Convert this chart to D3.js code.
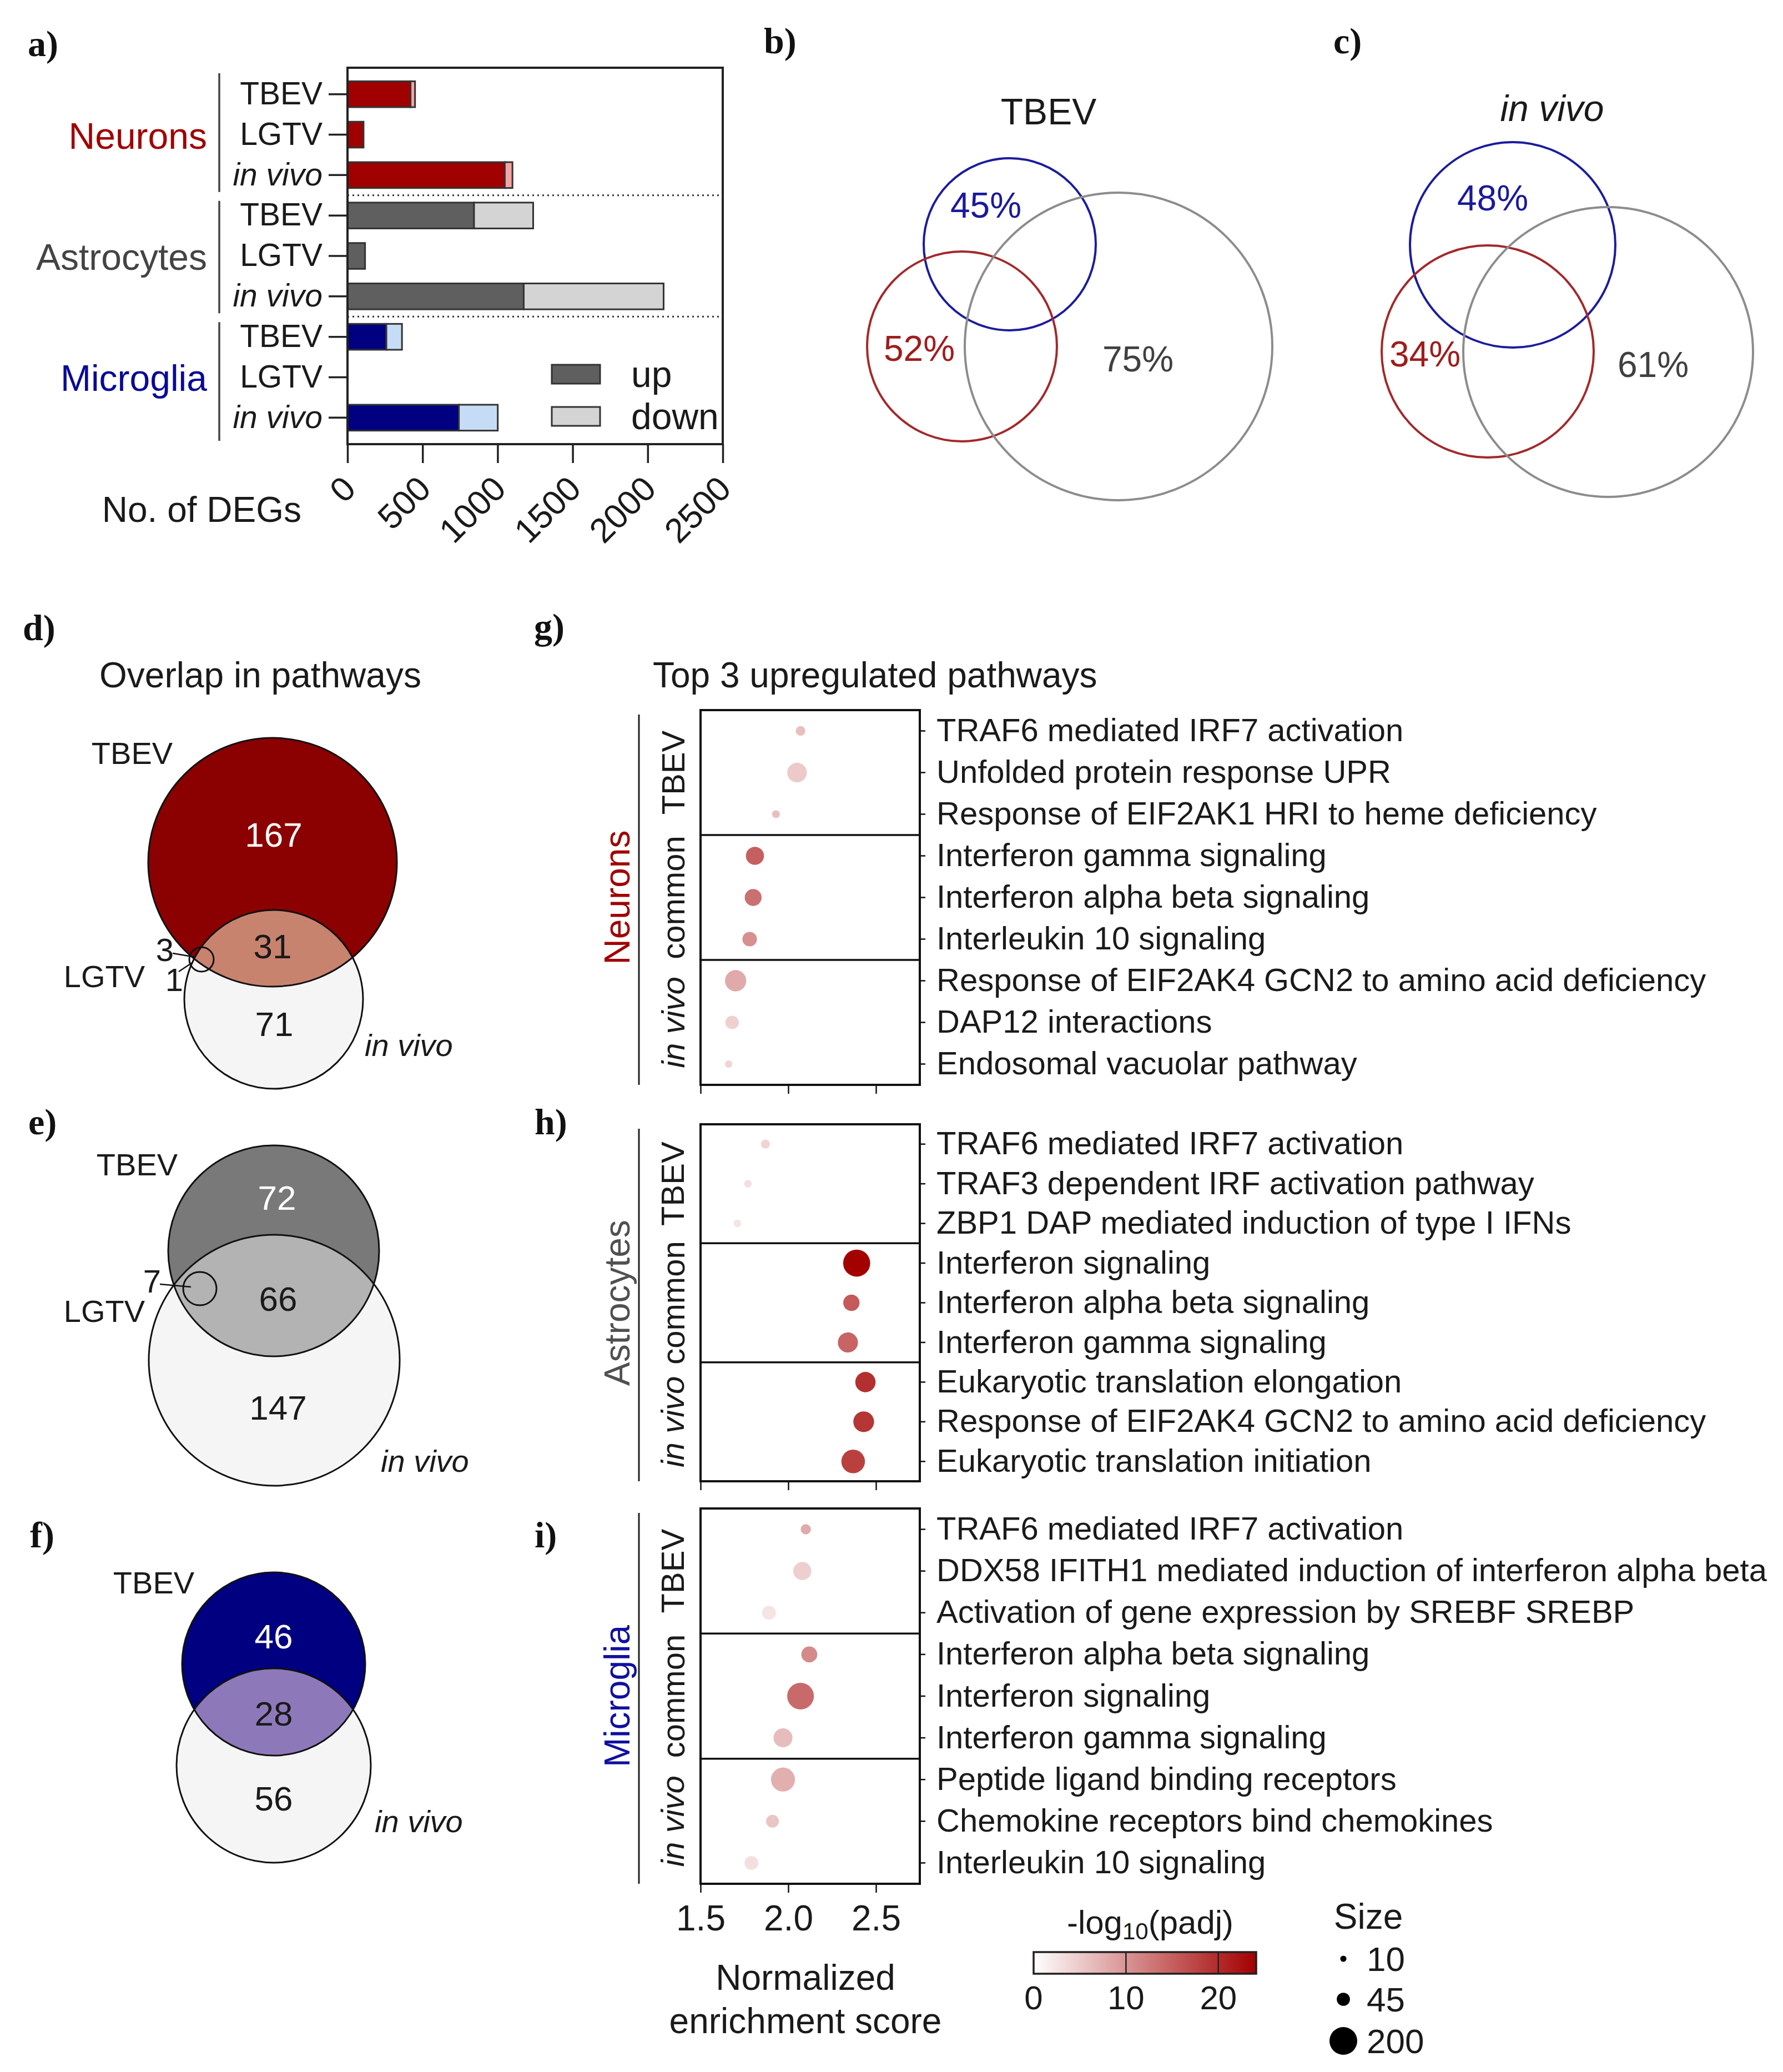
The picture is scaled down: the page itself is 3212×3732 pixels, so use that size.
<!DOCTYPE html>
<html><head><meta charset="utf-8">
<script src="https://cdn.jsdelivr.net/npm/d3@7/dist/d3.min.js"></script>
<style>body{margin:0;background:#fff} svg{display:block} text{font-family:"Liberation Sans", Arial, sans-serif}</style>
</head><body><svg id="c" width="3212" height="3732"></svg>
<script>
// ---------------- DATA ----------------
const cellTypes = ["Neurons", "Astrocytes", "Microglia"];
const conditions = ["TBEV", "LGTV", "in vivo"];
const degUp   = [420, 107, 1048, 843, 117, 1174, 259, 0, 742];
const degDown = [ 30,   0,   51, 394,   0,  932, 104, 0, 259];
const degTicks = [0, 500, 1000, 1500, 2000, 2500];

const tbevPct   = ["45%", "52%", "75%"];   // microglia, neurons, astrocytes
const invivoPct = ["48%", "34%", "61%"];

const neuronOverlap = [167, 31, 71, 3, 1]; // TBEV only, TBEV∩in vivo, in vivo only, LGTV, LGTV
const astroOverlap  = [72, 66, 147, 7];
const microOverlap  = [46, 28, 56];

const pathwayGroups = ["TBEV", "common", "in vivo"];

const neuronPathways = ["TRAF6 mediated IRF7 activation", "Unfolded protein response UPR",
  "Response of EIF2AK1 HRI to heme deficiency", "Interferon gamma signaling",
  "Interferon alpha beta signaling", "Interleukin 10 signaling",
  "Response of EIF2AK4 GCN2 to amino acid deficiency", "DAP12 interactions", "Endosomal vacuolar pathway"];
const neuronNES  = [2.07, 2.05, 1.93, 1.81, 1.80, 1.78, 1.70, 1.68, 1.66];
const neuronPadj = [6, 5, 6, 15, 13.5, 10.5, 8, 4.4, 4];
const neuronSize = [24, 100, 16, 85, 74, 55, 118, 47, 14];

const astroPathways = ["TRAF6 mediated IRF7 activation", "TRAF3 dependent IRF activation pathway",
  "ZBP1 DAP mediated induction of type I IFNs", "Interferon signaling",
  "Interferon alpha beta signaling", "Interferon gamma signaling",
  "Eukaryotic translation elongation", "Response of EIF2AK4 GCN2 to amino acid deficiency",
  "Eukaryotic translation initiation"];
const astroNES  = [1.87, 1.77, 1.71, 2.39, 2.36, 2.34, 2.44, 2.43, 2.37];
const astroPadj = [4, 3, 2.5, 24, 15.5, 14.6, 19.5, 19, 18];
const astroSize = [21, 15, 15, 190, 69, 105, 107, 112, 145];

const microPathways = ["TRAF6 mediated IRF7 activation",
  "DDX58 IFITH1 mediated induction of interferon alpha beta",
  "Activation of gene expression by SREBF SREBP", "Interferon alpha beta signaling",
  "Interferon signaling", "Interferon gamma signaling", "Peptide ligand binding receptors",
  "Chemokine receptors bind chemokines", "Interleukin 10 signaling"];
const microNES  = [2.10, 2.08, 1.89, 2.12, 2.07, 1.97, 1.97, 1.91, 1.79];
const microPadj = [8, 4.5, 2.5, 11, 14, 6.3, 7.5, 5.5, 3];
const microSize = [27, 85, 50, 66, 185, 93, 150, 43, 50];

const nesTicks = [1.5, 2.0, 2.5];
const padjTicks = [0, 10, 20];
const sizeLegend = [10, 45, 200];

// ---------------- HELPERS ----------------
const svg = d3.select("#c");
svg.append("rect").attr("width", 3212).attr("height", 3732).attr("fill", "#fff");
function T(p, x, y, s, size, o = {}) {
  const t = p.append("text").attr("x", x).attr("y", y)
    .attr("font-size", size)
    .attr("text-anchor", o.anchor || "start")
    .attr("dominant-baseline", o.base || "central")
    .attr("fill", o.fill || "#1a1a1a")
    .attr("font-style", o.italic ? "italic" : null)
    .attr("font-weight", o.bold ? "bold" : null)
    .text(s);
  if (o.serif) t.style("font-family", "'Liberation Serif', 'Times New Roman', serif");
  return t;
}
function panelLabel(x, y, s) { T(svg, x, y, s, 66, {bold: true, serif: true, fill: "#111"}); }

// ---------------- PANEL A ----------------
const rowKeys = [];
cellTypes.forEach((c, ci) => conditions.forEach((k, ki) => rowKeys.push(ci * 3 + ki)));
const aX = d3.scaleLinear().domain([0, 2500]).range([626, 1302]);
const aY = d3.scaleBand().domain(rowKeys).range([122, 800]).paddingInner(0.36).paddingOuter(0.335);
const upCol = ["#a00000", "#5f5f5f", "#000080"];
const downCol = ["#f5a3a3", "#d4d4d4", "#c6dcf6"];
const gA = svg.append("g");

panelLabel(50, 78, "a)");
rowKeys.forEach(i => {
  const ci = Math.floor(i / 3);
  if (degUp[i] > 0) gA.append("rect").attr("x", aX(0)).attr("y", aY(i))
    .attr("width", aX(degUp[i]) - aX(0)).attr("height", aY.bandwidth())
    .attr("fill", upCol[ci]).attr("stroke", "#333").attr("stroke-width", 3);
  if (degDown[i] > 0) gA.append("rect").attr("x", aX(degUp[i])).attr("y", aY(i))
    .attr("width", aX(degUp[i] + degDown[i]) - aX(degUp[i])).attr("height", aY.bandwidth())
    .attr("fill", downCol[ci]).attr("stroke", "#333").attr("stroke-width", 3);
});
gA.append("rect").attr("x", 626).attr("y", 122).attr("width", 676).attr("height", 678)
  .attr("fill", "none").attr("stroke", "#222").attr("stroke-width", 4);
const stepA = aY.step(), gapA = stepA * aY.paddingInner();
[3, 6].forEach(i => gA.append("line").attr("x1", 626).attr("x2", 1302)
  .attr("y1", aY(i) - gapA / 2).attr("y2", aY(i) - gapA / 2)
  .attr("stroke", "#333").attr("stroke-width", 3).attr("stroke-dasharray", "3,6"));
const yAx = gA.append("g").attr("transform", "translate(626,0)")
  .call(d3.axisLeft(aY).tickSize(34).tickPadding(11).tickFormat(i => conditions[i % 3]));
yAx.select(".domain").remove();
yAx.selectAll("line").attr("stroke", "#222").attr("stroke-width", 3.5);
yAx.selectAll("text").attr("font-size", 57).attr("fill", "#1a1a1a")
  .attr("font-style", i => conditions[i % 3] === "in vivo" ? "italic" : null);
const xAx = gA.append("g").attr("transform", "translate(0,800)")
  .call(d3.axisBottom(aX).tickValues(degTicks).tickSize(34).tickFormat(d3.format("d")));
xAx.select(".domain").remove();
xAx.selectAll("line").attr("stroke", "#222").attr("stroke-width", 3.5);
xAx.selectAll("text").attr("font-size", 62).attr("fill", "#1a1a1a")
  .attr("x", 0).attr("y", 0).attr("dy", 0).attr("text-anchor", "end")
  .attr("transform", "translate(18,84) rotate(-45)");
T(gA, 543, 918, "No. of DEGs", 64, {anchor: "end"});
const groupCol = ["#a00000", "#444444", "#0a0a96"];
const bounds = [122, aY(3) - gapA / 2, aY(6) - gapA / 2, 800];
cellTypes.forEach((c, ci) => {
  const cy = aY(ci * 3 + 1) + aY.bandwidth() / 2 + 2;
  T(gA, 373, cy, c, 66, {anchor: "end", fill: groupCol[ci]});
  gA.append("line").attr("x1", 395).attr("x2", 395)
    .attr("y1", bounds[ci] + 10).attr("y2", bounds[ci + 1] - 6)
    .attr("stroke", "#444").attr("stroke-width", 3.5);
});
[["up", "#5f5f5f", 674], ["down", "#d4d4d4", 750]].forEach(([lab, col, y]) => {
  gA.append("rect").attr("x", 994).attr("y", y - 17).attr("width", 87).attr("height", 34)
    .attr("fill", col).attr("stroke", "#333").attr("stroke-width", 3);
  T(gA, 1137, y, lab, 66);
});

// ---------------- PANELS B, C ----------------
function outlineVenn(title, italic, lay, pct) {
  T(svg, lay.title[0], lay.title[1], title, 66, {anchor: "middle", italic: italic});
  const cols = ["#1c1c9c", "#a3282a", "#8c8c8c"];
  const tcols = ["#1a1a9a", "#a01c1c", "#404040"];
  lay.circles.forEach((c, i) => svg.append("circle").attr("cx", c[0]).attr("cy", c[1]).attr("r", c[2])
    .attr("fill", "none").attr("stroke", cols[i]).attr("stroke-width", 4));
  lay.labels.forEach((p, i) => T(svg, p[0], p[1], pct[i], 64, {anchor: "middle", fill: tcols[i]}));
}
panelLabel(1376, 73, "b)");
panelLabel(2402, 73, "c)");
outlineVenn("TBEV", false, {title: [1889, 201],
  circles: [[1819, 440, 155], [1733, 624, 171], [2015, 624, 277]],
  labels: [[1776, 370], [1656, 628], [2050, 647]]}, tbevPct);
outlineVenn("in vivo", true, {title: [2796, 195],
  circles: [[2725, 441, 185], [2680, 633, 191], [2897, 634, 261]],
  labels: [[2689, 357], [2567, 638], [2978, 657]]}, invivoPct);

// ---------------- PANELS D, E, F ----------------
let clipId = 0;
function filledVenn(lay, cols, counts) {
  const g = svg.append("g");
  const [A, B] = lay.circles;
  g.append("circle").attr("cx", B[0]).attr("cy", B[1]).attr("r", B[2]).attr("fill", cols[2]);
  g.append("circle").attr("cx", A[0]).attr("cy", A[1]).attr("r", A[2]).attr("fill", cols[0]);
  const id = "clip" + (clipId++);
  g.append("clipPath").attr("id", id).append("circle").attr("cx", A[0]).attr("cy", A[1]).attr("r", A[2]);
  g.append("circle").attr("cx", B[0]).attr("cy", B[1]).attr("r", B[2]).attr("fill", cols[1])
    .attr("clip-path", `url(#${id})`);
  [A, B].forEach(c => g.append("circle").attr("cx", c[0]).attr("cy", c[1]).attr("r", c[2])
    .attr("fill", "none").attr("stroke", "#111").attr("stroke-width", 3));
  if (lay.small) g.append("circle").attr("cx", lay.small[0]).attr("cy", lay.small[1]).attr("r", lay.small[2])
    .attr("fill", "none").attr("stroke", "#111").attr("stroke-width", 3);
  T(g, lay.tbev[0], lay.tbev[1], "TBEV", 56, {anchor: "middle"});
  T(g, lay.invivo[0], lay.invivo[1], "in vivo", 56, {italic: true});
  lay.nums.forEach((p, i) => T(g, p[0], p[1], counts[i], 62, {anchor: "middle", fill: i === 0 ? "#fff" : "#1a1a1a"}));
  (lay.extra || []).forEach((e, k) => {
    T(g, e.pos[0], e.pos[1], counts[3 + k], 58, {anchor: "middle"});
    g.append("line").attr("x1", e.line[0]).attr("y1", e.line[1]).attr("x2", e.line[2]).attr("y2", e.line[3])
      .attr("stroke", "#111").attr("stroke-width", 2.5);
  });
  if (lay.lgtv) T(g, lay.lgtv[0], lay.lgtv[1], "LGTV", 56, {anchor: "middle"});
}
panelLabel(41, 1130, "d)");
T(svg, 469, 1216, "Overlap in pathways", 64, {anchor: "middle"});
filledVenn({circles: [[491, 1553, 224], [493, 1800, 161]], small: [363, 1728, 22],
  tbev: [238, 1356], invivo: [657, 1882], lgtv: [188, 1758],
  nums: [[493, 1503], [491, 1704], [494, 1844]],
  extra: [{pos: [297, 1710], line: [311, 1717, 352, 1724]}, {pos: [314, 1764], line: [322, 1750, 346, 1734]}]},
  ["#8b0000", "#c8836f", "#f5f5f5"], neuronOverlap);
panelLabel(51, 2020, "e)");
filledVenn({circles: [[493, 2253, 190], [494, 2450, 226]], small: [360, 2321, 30],
  tbev: [247, 2097], invivo: [686, 2631], lgtv: [188, 2361],
  nums: [[499, 2157], [501, 2339], [501, 2535]],
  extra: [{pos: [274, 2307], line: [288, 2313, 344, 2318]}]},
  ["#797979", "#b3b3b3", "#f5f5f5"], astroOverlap);
panelLabel(54, 2764, "f)");
filledVenn({circles: [[493, 2997, 165], [493, 3180, 175]],
  tbev: [277, 2850], invivo: [675, 3280],
  nums: [[493, 2947], [493, 3086], [493, 3239]]},
  ["#000080", "#8d79ba", "#f5f5f5"], microOverlap);

// ---------------- PANELS G, H, I ----------------
const nesX = d3.scaleLinear().domain([1.5, 2.75]).range([1262, 1657]);
const rScale = d3.scaleSqrt().domain([0, 200]).range([0, 25]);
const cScale = d3.scaleLinear().domain([0, 24]).range(["#ffffff", "#a30000"]);

function dotPanel(top, bottom, names, nes, padj, size, cell, cellCol, showLabels) {
  const g = svg.append("g");
  const y = d3.scaleBand().domain(d3.range(names.length)).range([top, bottom]);
  const sec = (bottom - top) / 3;
  g.selectAll("circle.dot").data(names).join("circle").attr("class", "dot")
    .attr("cx", (d, i) => nesX(nes[i])).attr("cy", (d, i) => y(i) + y.bandwidth() / 2)
    .attr("r", (d, i) => rScale(size[i])).attr("fill", (d, i) => cScale(padj[i]));
  g.append("rect").attr("x", 1262).attr("y", top).attr("width", 395).attr("height", bottom - top)
    .attr("fill", "none").attr("stroke", "#111").attr("stroke-width", 4);
  [1, 2].forEach(k => g.append("line").attr("x1", 1262).attr("x2", 1657)
    .attr("y1", top + sec * k).attr("y2", top + sec * k).attr("stroke", "#111").attr("stroke-width", 3.5));
  const ra = g.append("g").attr("transform", "translate(1657,0)")
    .call(d3.axisRight(y).tickSize(10).tickPadding(20).tickFormat(i => names[i]));
  ra.select(".domain").remove();
  ra.selectAll("line").attr("stroke", "#111").attr("stroke-width", 2.5);
  ra.selectAll("text").attr("font-size", 58).attr("fill", "#1a1a1a");
  const ba = g.append("g").attr("transform", `translate(0,${bottom})`)
    .call(d3.axisBottom(nesX).tickValues(nesTicks).tickSize(16).tickFormat(d3.format(".1f")));
  ba.select(".domain").remove();
  ba.selectAll("line").attr("stroke", "#111").attr("stroke-width", 2.5);
  if (showLabels) {
    ba.selectAll("text").attr("font-size", 64).attr("fill", "#1a1a1a")
      .attr("y", 62).attr("dy", 0).attr("dominant-baseline", "central");
  } else ba.selectAll("text").remove();
  pathwayGroups.forEach((grp, k) => {
    const cy = top + sec * (k + 0.5);
    T(g, 1212, cy, grp, 58, {anchor: "middle", italic: grp === "in vivo"})
      .attr("transform", `rotate(-90,1212,${cy})`);
  });
  const mid = (top + bottom) / 2;
  T(g, 1112, mid, cell, 64, {anchor: "middle", fill: cellCol}).attr("transform", `rotate(-90,1112,${mid})`);
  g.append("line").attr("x1", 1151).attr("x2", 1151).attr("y1", top + 8).attr("y2", bottom)
    .attr("stroke", "#222").attr("stroke-width", 3);
}
panelLabel(962, 1128, "g)");
T(svg, 1176, 1216, "Top 3 upregulated pathways", 64);
dotPanel(1279, 1954, neuronPathways, neuronNES, neuronPadj, neuronSize, "Neurons", "#a00000", false);
panelLabel(963, 2020, "h)");
dotPanel(2025, 2668, astroPathways, astroNES, astroPadj, astroSize, "Astrocytes", "#505050", false);
panelLabel(963, 2764, "i)");
dotPanel(2717, 3393, microPathways, microNES, microPadj, microSize, "Microglia", "#1010a0", true);

T(svg, 1451, 3562, "Normalized", 64, {anchor: "middle"});
T(svg, 1451, 3640, "enrichment score", 64, {anchor: "middle"});

// colour bar
const cbX = d3.scaleLinear().domain([0, 24.1]).range([1862, 2263]);
const defs = svg.append("defs");
const grad = defs.append("linearGradient").attr("id", "cbg");
d3.range(0, 1.0001, 0.1).forEach(t => grad.append("stop").attr("offset", t)
  .attr("stop-color", cScale(t * 24.1)));
const ttl = svg.append("text").attr("x", 2072).attr("y", 3462).attr("text-anchor", "middle")
  .attr("dominant-baseline", "central").attr("font-size", 60).attr("fill", "#1a1a1a");
ttl.append("tspan").text("-log");
ttl.append("tspan").attr("font-size", 42).attr("dy", 16).text("10");
ttl.append("tspan").attr("dy", -16).text("(padj)");
svg.append("rect").attr("x", 1862).attr("y", 3516).attr("width", 401).attr("height", 39)
  .attr("fill", "url(#cbg)").attr("stroke", "#222").attr("stroke-width", 3.5);
padjTicks.forEach(v => {
  if (v > 0) svg.append("line").attr("x1", cbX(v)).attr("x2", cbX(v)).attr("y1", 3516).attr("y2", 3555)
    .attr("stroke", "#222").attr("stroke-width", 2.5);
  T(svg, cbX(v), 3598, v, 60, {anchor: "middle"});
});

// size legend
T(svg, 2465, 3452, "Size", 64, {anchor: "middle"});
const sizeY = [3528, 3601, 3676];
sizeLegend.forEach((s, i) => {
  svg.append("circle").attr("cx", 2420).attr("cy", sizeY[i]).attr("r", rScale(s)).attr("fill", "#000");
  T(svg, 2462, sizeY[i], s, 62);
});
</script></body></html>
